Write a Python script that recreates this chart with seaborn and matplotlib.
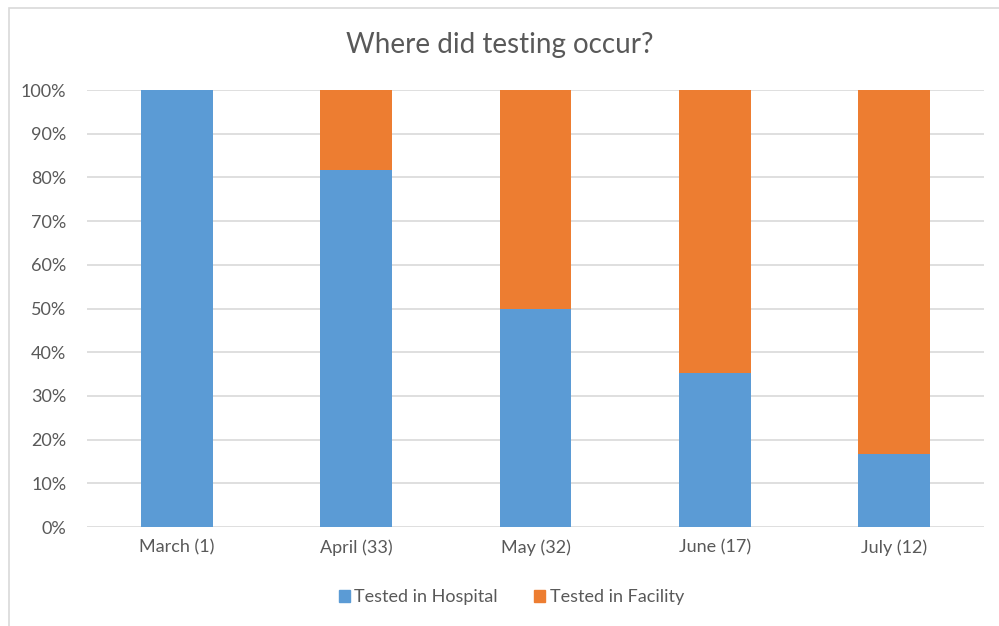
import pandas as pd
import numpy as np
import matplotlib.pyplot as plt
import seaborn as sns
from matplotlib.patches import Patch, Rectangle
from matplotlib.ticker import PercentFormatter

# data
months = ["March (1)", "April (33)", "May (32)", "June (17)", "July (12)"]
hospital_pct = [100.0, 81.8, 50.0, 35.3, 16.7]
facility_pct = [0.0, 18.2, 50.0, 64.7, 83.3]

BLUE = "#5B9BD5"
ORANGE = "#ED7D31"
TXT = "#595959"

sns.set_theme(style="white")
plt.rcParams['font.family'] = ['Lato', 'DejaVu Sans']

df = pd.DataFrame({"month": months, "hospital": hospital_pct, "facility": facility_pct})
df["total"] = df["hospital"] + df["facility"]

fig = plt.figure(figsize=(9.99, 6.26), dpi=100)
ax = fig.add_axes([0.0871, 0.1581, 0.8978, 0.6981])

# stacked: draw total first (orange), hospital over it (blue)
sns.barplot(data=df, x="month", y="total", color=ORANGE, width=0.4,
            saturation=1, linewidth=0, edgecolor="none", ax=ax, zorder=2)
sns.barplot(data=df, x="month", y="hospital", color=BLUE, width=0.4,
            saturation=1, linewidth=0, edgecolor="none", ax=ax, zorder=3)

ax.set_ylim(0, 100)
ax.set_xlim(-0.5, len(months) - 0.5)
ax.set_yticks(np.arange(0, 101, 10))
ax.yaxis.set_major_formatter(PercentFormatter(decimals=0))
ax.grid(axis="y", color="#D9D9D9", linewidth=1.2, zorder=0)
ax.set_axisbelow(True)
for s in ax.spines.values():
    s.set_visible(False)
ax.set_xlabel("")
ax.set_ylabel("")
ax.tick_params(axis="both", length=0, labelsize=13, colors=TXT)
ax.tick_params(axis="y", pad=15)
ax.tick_params(axis="x", pad=9)

fig.text(0.5, 0.928, "Where did testing occur?", ha="center", va="center",
         fontsize=20, color=TXT)

handles = [Patch(color=BLUE, label="Tested in Hospital"),
           Patch(color=ORANGE, label="Tested in Facility")]
fig.legend(handles=handles, loc="center", bbox_to_anchor=(0.512, 0.046), ncol=2,
           frameon=False, fontsize=13, handlelength=0.6, handleheight=0.6,
           handletextpad=0.25, columnspacing=2.0, labelcolor=TXT)

# light chart border like the spreadsheet frame
fig.patches.append(Rectangle((0.009, -0.05), 1.2, 1.037, transform=fig.transFigure,
                             fill=False, edgecolor="#D9D9D9", linewidth=1.2))

fig.savefig("out.png", dpi=100)
